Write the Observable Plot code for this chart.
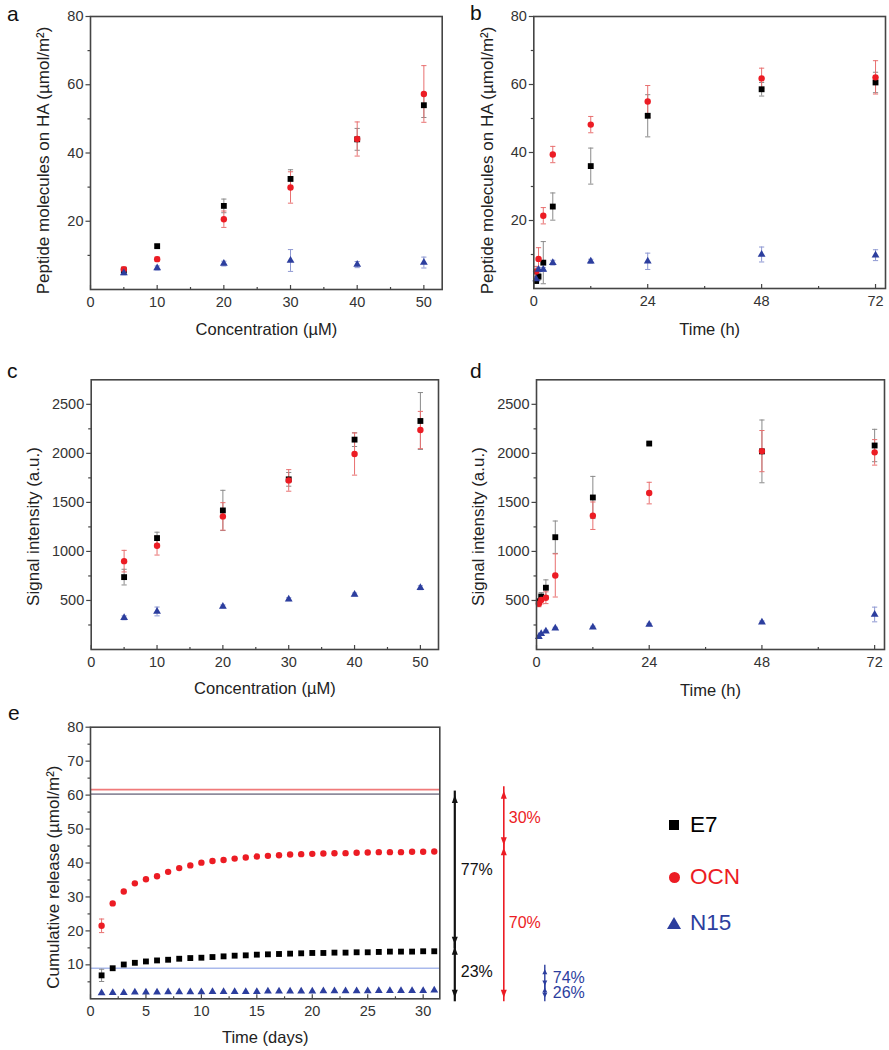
<!DOCTYPE html>
<html>
<head>
<meta charset="utf-8">
<script src="https://cdn.jsdelivr.net/npm/d3@7"></script>
<script src="https://cdn.jsdelivr.net/npm/@observablehq/plot@0.6"></script>
<style>
  html, body { margin: 0; padding: 0; background: #fff; }
  #root { position: relative; width: 889px; height: 1050px; background: #fff; overflow: hidden;
          font-family: "Liberation Sans", Arial, sans-serif; }
  .panel { position: absolute; }
  .letter { position: absolute; font-size: 21px; line-height: 21px; color: #111; }
  .leg { position: absolute; left: 666px; height: 30px; display: flex; align-items: center; }
  .leg .sym { width: 16px; height: 16px; display: flex; align-items: center; justify-content: center; }
  .leg .txt { margin-left: 8px; font-size: 22.5px; }
</style>
</head>
<body>
<div id="root">
  <div class="letter" style="left:7px;top:3px">a</div>
  <div class="letter" style="left:470px;top:2px">b</div>
  <div class="letter" style="left:7px;top:360px">c</div>
  <div class="letter" style="left:470px;top:360px">d</div>
  <div class="letter" style="left:8px;top:702px">e</div>
  <div class="leg" style="top:810px"><div class="sym"><div style="width:10px;height:10px;background:#000"></div></div><div class="txt" style="color:#000">E7</div></div>
  <div class="leg" style="top:862px"><div class="sym"><div style="width:11px;height:11px;border-radius:50%;background:#ec1c24"></div></div><div class="txt" style="color:#ec1c24">OCN</div></div>
  <div class="leg" style="top:908px"><div class="sym"><div style="width:0;height:0;border-left:7px solid transparent;border-right:7px solid transparent;border-bottom:12px solid #2c3e9e"></div></div><div class="txt" style="color:#2c3e9e">N15</div></div>
</div>
<script>
// ---------------- data ----------------
const seriesNames = ["E7", "OCN", "N15"];
const seriesColors = ["#000000", "#ec1c24", "#2c3e9e"];
const errColors = ["#8a8a8a", "#e87070", "#8e98d2"];

// panel a: adsorption vs concentration
const concentrations = [5, 10, 20, 30, 40, 50];
const aE7 = [5.6, 12.7, 24.5, 32.4, 44.0, 54.0];
const aE7Err = [0.8, 0.4, 2.0, 2.7, 3.2, 3.6];
const aOCN = [5.9, 8.9, 20.6, 29.9, 44.1, 57.3];
const aOCNErr = [0.8, 0.6, 2.4, 4.6, 5.0, 8.3];
const aN15 = [4.8, 6.3, 7.6, 8.5, 7.3, 7.9];
const aN15Err = [0.5, 0.6, 0.7, 3.2, 0.9, 1.6];

// panel b: adsorption vs time
const timesH = [0.5, 1, 2, 4, 12, 24, 48, 72];
const bE7 = [2.2, 3.5, 7.6, 24.1, 36.0, 50.8, 58.6, 60.6];
const bE7Err = [0.5, 1.0, 6.2, 4.0, 5.3, 6.2, 2.0, 3.0];
const bOCN = [5.0, 8.7, 21.4, 39.4, 48.2, 55.0, 61.8, 62.1];
const bOCNErr = [1.5, 3.3, 2.4, 2.4, 2.4, 4.7, 3.0, 4.9];
const bN15 = [2.8, 5.6, 5.6, 7.6, 8.0, 8.0, 10.0, 9.8];
const bN15Err = [0.5, 0.6, 0.6, 0.7, 0.6, 2.4, 2.2, 1.6];

// panel c: signal vs concentration
const cE7 = [738, 1136, 1418, 1735, 2140, 2330];
const cE7Err = [80, 60, 205, 70, 70, 290];
const cOCN = [901, 1058, 1357, 1724, 1993, 2238];
const cOCNErr = [110, 95, 140, 110, 215, 190];
const cN15 = [323, 388, 439, 513, 561, 630];
const cN15Err = [20, 45, 15, 15, 15, 20];

// panel d: signal vs time
const dE7 = [490, 540, 630, 1145, 1550, 2100, 2020, 2080];
const dE7Err = [30, 40, 80, 165, 215, 10, 320, 165];
const dOCN = [466, 505, 528, 755, 1364, 1595, 2023, 2010];
const dOCNErr = [30, 40, 60, 220, 140, 110, 210, 130];
const dN15 = [130, 160, 187, 217, 228, 255, 279, 357];
const dN15Err = [10, 10, 10, 10, 10, 12, 12, 75];

// panel e: cumulative release
const days = [1,2,3,4,5,6,7,8,9,10,11,12,13,14,15,16,17,18,19,20,21,22,23,24,25,26,27,28,29,30,31];
const eE7 = [6.9, 9.0, 10.1, 10.6, 11.0, 11.3, 11.5, 11.8, 12.0, 12.1, 12.3, 12.5, 12.7, 12.8, 13.0, 13.1,
             13.2, 13.3, 13.4, 13.5, 13.5, 13.6, 13.6, 13.7, 13.7, 13.8, 13.9, 13.9, 13.9, 14.0, 14.0];
const eE7Err = [1.8];
const eOCN = [21.5, 28.1, 31.6, 34.0, 35.2, 36.1, 37.4, 38.5, 39.3, 40.1, 40.6, 40.9, 41.3, 41.6, 41.9, 42.1,
              42.3, 42.5, 42.6, 42.7, 42.8, 42.85, 42.9, 43.0, 43.1, 43.2, 43.2, 43.2, 43.3, 43.3, 43.4];
const eOCNErr = [2.0];
const eN15 = [1.7, 1.8, 1.8, 1.9, 1.9, 1.9, 2.0, 2.0, 2.0, 2.0, 2.1, 2.1, 2.1, 2.1, 2.1, 2.2,
              2.2, 2.2, 2.2, 2.2, 2.3, 2.3, 2.3, 2.3, 2.3, 2.4, 2.4, 2.4, 2.4, 2.4, 2.5];
const eN15Err = [0];
const adsorbed = [60.3, 61.6, 9.0];            // E7, OCN, N15 (horizontal lines)
const adsorbedLineColors = ["#8e8c9c", "#f07a7a", "#a9b9ec"];
const releaseSegments = [
  {series: "E7", lo: 15.6, hi: 60.3, label: "77%"},
  {series: "E7", lo: 0, hi: 15.6, label: "23%"},
  {series: "OCN", lo: 44.9, hi: 61.6, label: "30%"},
  {series: "OCN", lo: 0, hi: 44.9, label: "70%"},
  {series: "N15", lo: 3.6, hi: 9.0, label: "74%"},
  {series: "N15", lo: 0, hi: 3.6, label: "26%"}
];

// tick values
const concTicks = [0, 10, 20, 30, 40, 50];
const concMinor = [5, 15, 25, 35, 45];
const hourTicks = [0, 24, 48, 72];
const hourMinor = [12, 36, 60];
const umolTicks = [20, 40, 60, 80];
const umolMinor = [10, 30, 50, 70];
const signalTicks = [500, 1000, 1500, 2000, 2500];
const signalMinor = [250, 750, 1250, 1750, 2250];
const dayTicks = [0, 5, 10, 15, 20, 25, 30];
const dayMinor = [2.5, 7.5, 12.5, 17.5, 22.5, 27.5];
const releaseTicks = [10, 20, 30, 40, 50, 60, 70, 80];
const releaseMinor = [5, 15, 25, 35, 45, 55, 65, 75];

const concDomain = [0, 52.75];
const hourDomain = [0, 74.1];
const umolDomain = [0, 80];
const signalDomain = [0, 2750];
const dayDomain = [0, 31.5];

// ---------------- helpers ----------------
const seg = (x1, y1, x2, y2) => ({draw(ctx) { ctx.moveTo(x1, y1); ctx.lineTo(x2, y2); }});
const headUp = (w, h) => ({draw(ctx) { ctx.moveTo(0, 0); ctx.lineTo(-w / 2, h); ctx.lineTo(w / 2, h); ctx.closePath(); }});
const headDown = (w, h) => ({draw(ctx) { ctx.moveTo(0, 0); ctx.lineTo(-w / 2, -h); ctx.lineTo(w / 2, -h); ctx.closePath(); }});
const symbols = ["square", "circle", "triangle"];
const symR = [3.3, 3.2, 2.9];
const capSym = seg(-2.6, 0, 2.6, 0);

function rows(xs, ys, es) {
  return xs.map((x, i) => ({x, y: ys[i], e: es[i] || 0})).filter(d => d.y != null);
}

function seriesMarks(list) {
  const marks = [];
  list.forEach((data, k) => {
    const withErr = data.filter(d => d.e > 0);
    marks.push(Plot.ruleX(withErr, {x: "x", y1: d => d.y - d.e, y2: d => d.y + d.e, stroke: errColors[k], strokeWidth: 1}));
    marks.push(Plot.dot(withErr, {x: "x", y: d => d.y + d.e, symbol: capSym, stroke: errColors[k], strokeWidth: 1, fill: "none"}));
    marks.push(Plot.dot(withErr, {x: "x", y: d => d.y - d.e, symbol: capSym, stroke: errColors[k], strokeWidth: 1, fill: "none"}));
  });
  list.forEach((data, k) => {
    marks.push(Plot.dot(data, {x: "x", y: "y", symbol: symbols[k], r: symR[k], fill: seriesColors[k], stroke: "none"}));
  });
  return marks;
}

function makePanel(c) {
  const frameBottom = c.height - c.mb;
  const frameMid = (c.mt + frameBottom) / 2;
  const axisColor = "#454545";
  const marks = [
    ...(c.before || []),
    ...seriesMarks(c.series),
    Plot.frame({stroke: axisColor, strokeWidth: 1.6}),
    Plot.dot(c.xTicks, {x: d => d, frameAnchor: "bottom", symbol: seg(0, 0, 0, -4.5), stroke: axisColor, strokeWidth: 1.2, fill: "none"}),
    Plot.dot(c.xMinor, {x: d => d, frameAnchor: "bottom", symbol: seg(0, 0, 0, -2.5), stroke: axisColor, strokeWidth: 1.2, fill: "none"}),
    Plot.dot(c.yTicks, {y: d => d, frameAnchor: "left", symbol: seg(0, 0, -5, 0), stroke: axisColor, strokeWidth: 1.2, fill: "none"}),
    Plot.dot(c.yMinor, {y: d => d, frameAnchor: "left", symbol: seg(0, 0, -3, 0), stroke: axisColor, strokeWidth: 1.2, fill: "none"}),
    Plot.axisX({ticks: c.xTicks, tickSize: 0, tickPadding: 7, tickFormat: d => String(d), fontSize: 14.5, fill: "#333", label: null}),
    Plot.axisY({ticks: c.yTicks, tickSize: 0, tickPadding: 7, tickFormat: d => String(d), fontSize: 14.5, fill: "#333", label: null}),
    Plot.text([c.xLabel], {frameAnchor: "bottom", lineAnchor: "middle", textAnchor: "middle", dy: c.xLabelDy, text: d => d, fontSize: 16.5, fill: "#222"}),
    Plot.text([c.yLabel], {frameAnchor: "left", textAnchor: "middle", lineAnchor: "middle", rotate: -90, dx: c.yLabelX - c.ml, dy: c.yLabelY - frameMid, text: d => d, fontSize: 17, fill: "#222"}),
    ...(c.after || [])
  ];
  return Plot.plot({
    width: c.width, height: c.height,
    marginTop: c.mt, marginBottom: c.mb, marginLeft: c.ml, marginRight: c.mr,
    x: {domain: c.xDomain}, y: {domain: c.yDomain},
    style: {background: "transparent", fontFamily: "'Liberation Sans', Arial, sans-serif", color: "#333", overflow: "visible"},
    marks
  });
}

function place(svg, left, top) {
  const div = document.createElement("div");
  div.className = "panel";
  div.style.left = left + "px";
  div.style.top = top + "px";
  div.appendChild(svg);
  document.getElementById("root").appendChild(div);
}

// ---------------- panels ----------------
place(makePanel({
  width: 446, height: 340, mt: 16, mb: 51, ml: 90, mr: 4.3,
  xDomain: concDomain, yDomain: umolDomain,
  xTicks: concTicks, xMinor: concMinor, yTicks: umolTicks, yMinor: umolMinor,
  xLabel: "Concentration (µM)", xLabelDy: 40,
  yLabel: "Peptide molecules on HA (µmol/m²)", yLabelX: 43, yLabelY: 160,
  series: [rows(concentrations, aE7, aE7Err), rows(concentrations, aOCN, aOCNErr), rows(concentrations, aN15, aN15Err)]
}), 0, 0);

place(makePanel({
  width: 449, height: 340, mt: 16, mb: 52, ml: 93.3, mr: 4,
  xDomain: hourDomain, yDomain: umolDomain,
  xTicks: hourTicks, xMinor: hourMinor, yTicks: umolTicks, yMinor: umolMinor,
  xLabel: "Time (h)", xLabelDy: 41,
  yLabel: "Peptide molecules on HA (µmol/m²)", yLabelX: 46.7, yLabelY: 160,
  series: [rows(timesH, bE7, bE7Err), rows(timesH, bOCN, bOCNErr), rows(timesH, bN15, bN15Err)]
}), 440, 0);

place(makePanel({
  width: 446, height: 400, mt: 79.3, mb: 51, ml: 90.7, mr: 8,
  xDomain: concDomain, yDomain: signalDomain,
  xTicks: concTicks, xMinor: concMinor, yTicks: signalTicks, yMinor: signalMinor,
  xLabel: "Concentration (µM)", xLabelDy: 39,
  yLabel: "Signal intensity (a.u.)", yLabelX: 33.3, yLabelY: 226,
  series: [rows(concentrations, cE7, cE7Err), rows(concentrations, cOCN, cOCNErr), rows(concentrations, cN15, cN15Err)]
}), 0, 300);

place(makePanel({
  width: 449, height: 400, mt: 79.3, mb: 51, ml: 96, mr: 5,
  xDomain: hourDomain, yDomain: signalDomain,
  xTicks: hourTicks, xMinor: hourMinor, yTicks: signalTicks, yMinor: signalMinor,
  xLabel: "Time (h)", xLabelDy: 41,
  yLabel: "Signal intensity (a.u.)", yLabelX: 38, yLabelY: 226,
  series: [rows(timesH, dE7, dE7Err), rows(timesH, dOCN, dOCNErr), rows(timesH, dN15, dN15Err)]
}), 440, 300);

// panel e extras
const xEnd = () => dayDomain[1];
const segOffsets = {E7: 15, OCN: 64, N15: 105};
const labelOffsets = {E7: 21, OCN: 69, N15: 113};
const segColor = {E7: "#111111", OCN: "#ec1c24", N15: "#2c3e9e"};
const segWidth = {E7: 2.2, OCN: 1.6, N15: 1.4};
const headSize = {E7: [6, 8], OCN: [6, 8], N15: [5, 5]};
const arrowMarks = [];
for (const s of seriesNames) {
  const segs = releaseSegments.filter(d => d.series === s);
  const [hw, hh] = headSize[s];
  arrowMarks.push(Plot.ruleX(segs, {x: xEnd, y1: "lo", y2: "hi", dx: segOffsets[s], dy: 0, stroke: segColor[s], strokeWidth: segWidth[s], insetTop: 3, insetBottom: 3}));
  arrowMarks.push(Plot.dot(segs, {x: xEnd, y: "hi", dx: segOffsets[s], dy: 1, symbol: headUp(hw, hh), fill: segColor[s], stroke: "none"}));
  arrowMarks.push(Plot.dot(segs, {x: xEnd, y: "lo", dx: segOffsets[s], dy: -1, symbol: headDown(hw, hh), fill: segColor[s], stroke: "none"}));
  arrowMarks.push(Plot.text(segs, {x: xEnd, y: d => (d.lo + d.hi) / 2, text: "label", dx: labelOffsets[s], textAnchor: "start", fill: segColor[s], fontSize: 16}));
}

place(makePanel({
  width: 620, height: 350, mt: 26.7, mb: 51.7, ml: 90, mr: 180.7,
  xDomain: dayDomain, yDomain: umolDomain,
  xTicks: dayTicks, xMinor: dayMinor, yTicks: releaseTicks, yMinor: releaseMinor,
  xLabel: "Time (days)", xLabelDy: 38.5,
  yLabel: "Cumulative release (µmol/m²)", yLabelX: 53.3, yLabelY: 176.7,
  before: adsorbed.map((v, k) => Plot.ruleY([v], {stroke: adsorbedLineColors[k], strokeWidth: 1.6})),
  after: arrowMarks,
  series: [rows(days, eE7, eE7Err), rows(days, eOCN, eOCNErr), rows(days, eN15, eN15Err)]
}), 0, 700);
</script>
</body>
</html>
